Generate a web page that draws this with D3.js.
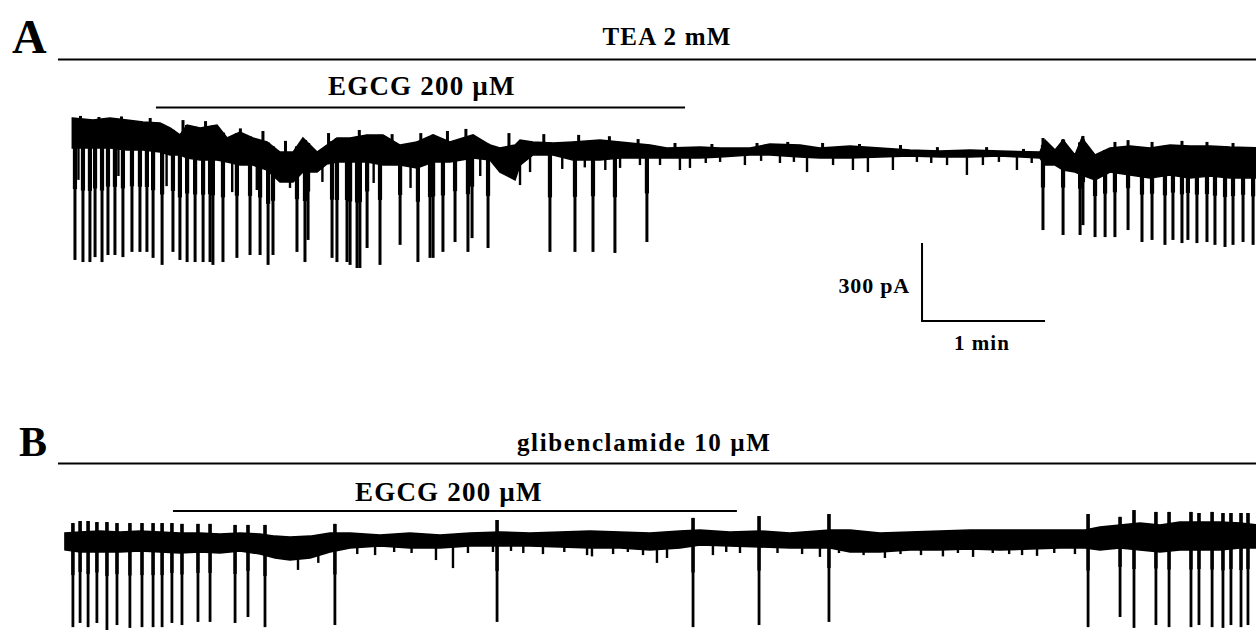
<!DOCTYPE html>
<html><head><meta charset="utf-8">
<script src="https://cdn.jsdelivr.net/npm/d3@7/dist/d3.min.js"></script>
<style>html,body{margin:0;padding:0;background:#fff;}svg{display:block;}</style>
</head><body>
<script>
// ---------- DATA (time in s, current in pA) ----------
// Panel A envelope of the noisy baseline band: [t, top, bottom]
const envA = [
 [6,0,-115],[16.1,-8,-115],[24.4,0,-115],[32.7,-8,-123],[40.5,-15,-123],[48.8,-19,-131],
 [53.7,-38,-142],[58.5,-65,-142],[62,-27,-154],[68.3,-38,-162],[76.6,-27,-162],[81.5,-77,-169],
 [87.8,-54,-181],[94.1,-77,-181],[101,-92,-200],[107.3,-131,-246],[113.7,-131,-246],[118.5,-77,-208],
 [125.4,-131,-208],[130.2,-104,-177],[135.1,-77,-169],[141.5,-77,-169],[149.8,-65,-169],[157.6,-65,-181],
 [165.9,-104,-181],[174.1,-92,-192],[182,-65,-169],[190.2,-92,-169],[201.5,-65,-154],[209.8,-104,-162],
 [214.6,-115,-208],[222,-104,-238],[224.4,-85,-181],[230.7,-92,-142],[240.5,-96,-142],[250.2,-92,-162],
 [263.4,-85,-162],[273.2,-92,-154],[287.8,-104,-154],[296.1,-115,-154],[312.2,-112,-154],[322,-115,-150],
 [336.6,-115,-142],[346.3,-100,-142],[361,-104,-150],[370.7,-115,-154],[385.4,-108,-154],[400,-115,-150],
 [414.6,-123,-146],[429.3,-127,-150],[443.9,-123,-150],[458.5,-127,-146],[478,-131,-154],[480.5,-85,-181],
 [485.4,-123,-181],[489.3,-85,-200],[495.1,-142,-208],[498.5,-77,-219],[504.9,-142,-238],[512.2,-115,-208],
 [522,-108,-219],[531.7,-115,-231],[541.5,-104,-219],[551.2,-108,-231],[561,-108,-223],[570.7,-112,-231],
 [584,-115,-231]
];
// Panel A deep inward currents: [t, peak current]
const spikesA = [
 [7.3,-546],[11.2,-554],[14.6,-554],[17.1,-535],[20.5,-554],[23.4,-527],[26.8,-527],[30.7,-535],
 [35.1,-515],[39,-515],[42.4,-515],[45.4,-538],[49.8,-565],[55.1,-515],[58.5,-546],[62,-554],
 [65.9,-554],[69.8,-554],[73.2,-554],[74.6,-565],[79.5,-554],[86.3,-538],[92.7,-527],[97.6,-527],
 [101.5,-565],[103.9,-527],[115.6,-515],[119.5,-554],[121,-469],[132.7,-538],[135.1,-554],[140,-554],
 [141.5,-565],[144.9,-577],[146.3,-577],[149.8,-500],[156.1,-565],[165.9,-488],[174.6,-554],[180.5,-538],
 [182,-538],[186.8,-515],[192.7,-477],[199,-515],[201,-462],[208.8,-500],[239,-515],[251.2,-515],
 [260,-515],[270.7,-519],[286.3,-477],
 [479.5,-431],[489.3,-450],[497.6,-450],[499,-412],[504.9,-458],[509.8,-458],[514.6,-458],[521,-431],
 [527.8,-477],[532.7,-469],[539,-488],[542.9,-469],[547.3,-481],[550.2,-469],[554.6,-481],[559.5,-477],
 [563.4,-488],[568.3,-496],[572.2,-488],[577.1,-477],[582,-488]
];
// Panel A small openings: [t, current]
const blipsA = [
 [9,-238],[28.5,-223],[52,-262],[84,-285],[96,-277],[112.2,-269],[128,-246],[153,-250],[171,-269],
 [205,-223],[224.4,-258],[229.3,-208],[245,-196],[256,-190],[266,-200],[273.2,-192],[282.9,-181],
 [292.7,-181],[302.4,-200],[307.3,-192],[315,-173],[322,-169],[334.1,-181],[342,-165],[351.2,-173],
 [358,-169],[364.4,-208],[377.1,-181],[386.8,-200],[394.1,-208],[406.3,-200],[418,-169],[425,-173],
 [432.7,-181],[442.4,-219],[450.2,-181],[458,-169],[466.8,-200],[474,-173]
];
// Panel A small outward deflections: [t, current]
const upsA = [
 [10,8],[19,4],[30,6],[44,0],[60,-8],[71,-12],[88,-40],[99,-50],[110,-88],[131,-58],[146,-46],
 [162,-62],[176,-58],[189,-50],[198,-42],[219,-58],[236,-62],[253,-65],[268,-70],[282,-81],
 [300,-96],[318,-100],[340,-96],[355,-92],[372,-96],[390,-100],[410,-104],[428,-112],[452,-112],
 [470,-119],[479.5,-77],[489.3,-81],[499,-69],[514.6,-92],[521,-85],[532.7,-92],[547.3,-88],
 [559.5,-92],[572.2,-96]
];

// Panel B envelope: [t, top, bottom]
const envB = [
 [2.4,-50,-115],[9.8,-46,-123],[19.5,-42,-123],[29.3,-46,-123],[39,-42,-119],[48.8,-46,-123],
 [58.5,-50,-127],[68.3,-50,-123],[78,-54,-127],[87.8,-50,-119],[97.6,-54,-131],[104.9,-62,-146],
 [112.2,-65,-154],[122,-62,-146],[131.7,-50,-123],[141.5,-50,-108],[156.1,-58,-100],[170.7,-50,-108],
 [185.4,-58,-108],[200,-50,-100],[214.6,-46,-100],[229.3,-50,-100],[243.9,-46,-104],[258.5,-42,-108],
 [273.2,-46,-108],[287.8,-50,-115],[302.4,-42,-108],[312.2,-38,-96],[326.8,-46,-100],[341.5,-42,-104],
 [356.1,-50,-108],[375.6,-38,-108],[385.4,-38,-123],[400,-50,-123],[414.6,-46,-115],[429.3,-42,-115],
 [443.9,-38,-112],[458.5,-38,-115],[473.2,-38,-112],[487.8,-38,-108],[500,-38,-108],[507.3,-27,-115],
 [517.1,-19,-108],[526.8,-12,-115],[536.6,-19,-123],[546.3,-8,-115],[556.1,-8,-115],[565.9,-8,-115],
 [575.6,-12,-108],[584,-19,-108]
];
// Panel B events: [t, outward overshoot, inward peak]
const spikesB = [
 [6.3,-12,-412],[9.8,-4,-396],[13.7,-4,-412],[18,-8,-396],[22.9,-8,-423],[27.8,-12,-404],[34.1,-12,-415],
 [40,-12,-412],[45.4,-12,-412],[49.8,-12,-412],[54.6,-12,-396],[59.5,-15,-404],[67.3,-15,-392],
 [73.2,-15,-392],[85.4,-19,-396],[91.7,-19,-373],[100,-19,-412],[134.1,-15,-404],[213.2,0,-392],
 [308.8,8,-412],[341,15,-404],[375.1,23,-392],[501.5,23,-412],[517.1,12,-373],[523.9,38,-415],
 [534.6,31,-404],[541,31,-412],[551.7,31,-412],[555.6,27,-404],[562,31,-412],[567.3,27,-415],
 [571.2,27,-404],[576.1,27,-412],[579.5,27,-404]
];
const blipsB = [
 [109.8,-154],[116.1,-192],[126,-165],[145,-131],[153.7,-135],[163,-123],[171.5,-127],[183.4,-154],
 [191.7,-185],[199,-127],[211.2,-123],[220,-119],[226,-127],[235.6,-131],[246,-123],[257.1,-135],
 [259.5,-140],[269.8,-131],[277,-123],[284.4,-135],[291.2,-165],[296.1,-146],[318.5,-135],[325,-123],
 [331.7,-127],[350,-127],[362,-131],[370.7,-142],[380,-127],[392,-135],[402.4,-146],[410,-131],
 [420,-135],[430.7,-140],[438,-127],[445.4,-142],[455,-127],[463,-131],[469.3,-135],[476.6,-138],
 [485,-127],[495.1,-131]
];

// drug application bars [start, end] in s
const teaBar = [-1, 600];
const egcgBarA = [46.8, 304.9];
const glibBar = [-1, 600];
const egcgBarB = [55.1, 330.2];
// calibration
const scaleBarT = [420.5, 480.5];   // 1 min
const scaleBarI = [-781, -481];     // 300 pA

const labels = {
  A: "A", B: "B", tea: "TEA 2 mM", egcgA: "EGCG 200 \u00b5M", glib: "glibenclamide 10 \u00b5M",
  egcgB: "EGCG 200 \u00b5M", pa: "300 pA", min: "1 min"
};

// ---------- DRAWING ----------
const W = 1256, H = 632;
const svg = d3.select("body").append("svg").attr("width", W).attr("height", H);
const x = d3.scaleLinear().domain([0, 600]).range([60, 1290]);
const yA = d3.scaleLinear().domain([0, -300]).range([118, 196]);
const yB = d3.scaleLinear().domain([0, -300]).range([520, 598]);
svg.append("defs").append("clipPath").attr("id","c").append("rect")
  .attr("x",0).attr("y",0).attr("width",W).attr("height",H);
const g = svg.append("g").attr("clip-path","url(#c)");
const serif = "'Liberation Serif','DejaVu Serif',serif";

function interp(env, t, idx){
  const bi = d3.bisector(d => d[0]).left;
  let i = bi(env, t);
  if (i <= 0) return env[0][idx];
  if (i >= env.length) return env[env.length-1][idx];
  const a = env[i-1], b = env[i];
  return a[idx] + (b[idx]-a[idx]) * (t - a[0])/(b[0]-a[0]);
}

function drawTrace(env, spikes, blips, ups, y, hasTop, thick, thin){
  const area = d3.area().x(d => x(d[0])).y0(d => y(d[2])).y1(d => y(d[1])).curve(d3.curveLinear);
  g.append("path").datum(env).attr("d", area).attr("fill","#000").attr("stroke","#000").attr("stroke-width",1.5);
  g.selectAll(null).data(blips).enter().append("line")
    .attr("x1", d => x(d[0])).attr("x2", d => x(d[0]))
    .attr("y1", d => y(interp(env, d[0], 2)) - 2).attr("y2", d => y(d[1]))
    .attr("stroke","#000").attr("stroke-width",2.4);
  g.selectAll(null).data(ups).enter().append("line")
    .attr("x1", d => x(d[0])).attr("x2", d => x(d[0]))
    .attr("y1", d => y(interp(env, d[0], 1)) + 2).attr("y2", d => y(d[1]))
    .attr("stroke","#000").attr("stroke-width",3);
  // thick upper part of each event
  g.selectAll(null).data(spikes).enter().append("line")
    .attr("x1", d => x(d[0])).attr("x2", d => x(d[0]))
    .attr("y1", d => hasTop ? y(d[1]) : y(interp(env, d[0], 1)))
    .attr("y2", d => { const top = hasTop ? d[1] : interp(env, d[0], 1); const bot = hasTop ? d[2] : d[1];
                       return y(top + (bot - top) * 0.5); })
    .attr("stroke","#000").attr("stroke-width", thick);
  g.selectAll(null).data(spikes).enter().append("line")
    .attr("x1", d => x(d[0])).attr("x2", d => x(d[0]))
    .attr("y1", d => hasTop ? y(d[1]) : y(interp(env, d[0], 1)))
    .attr("y2", d => y(hasTop ? d[2] : d[1]))
    .attr("stroke","#000").attr("stroke-width", thin);
}
drawTrace(envA, spikesA, blipsA, upsA, yA, false, 4.2, 3);
drawTrace(envB, spikesB, blipsB, [], yB, true, 3.4, 2.8);

function bar(b, yy){
  g.append("line").attr("x1", x(b[0])).attr("x2", Math.min(x(b[1]), W)).attr("y1", yy).attr("y2", yy)
   .attr("stroke","#000").attr("stroke-width",2);
}
bar(teaBar, 59.5); bar(egcgBarA, 107.5); bar(glibBar, 463.5); bar(egcgBarB, 511);

// scale bar
svg.append("path")
  .attr("d", `M${x(scaleBarT[0])},${yA(scaleBarI[1])}V${yA(scaleBarI[0])}H${x(scaleBarT[1])}`)
  .attr("fill","none").attr("stroke","#000").attr("stroke-width",2);

function text(s, xx, yy, size, anchor, ls){
  svg.append("text").attr("x", xx).attr("y", yy).text(s)
    .attr("font-family", serif).attr("font-weight","bold").attr("font-size", size)
    .attr("text-anchor", anchor || "start").attr("letter-spacing", ls || 0).attr("fill","#000");
}
text(labels.A, 12, 53, 48);
text(labels.B, 19, 456, 42);
text(labels.tea, 667, 45, 25, "middle", 1.2);
text(labels.egcgA, 328, 95, 27, "start", 1.2);
text(labels.glib, 517, 451, 25, "start", 1.6);
text(labels.egcgB, 355, 501, 27, "start", 1.2);
text(labels.pa, 910, 293, 22, "end", 0.8);
text(labels.min, 982, 350, 21, "middle", 1);
</script>
</body></html>
